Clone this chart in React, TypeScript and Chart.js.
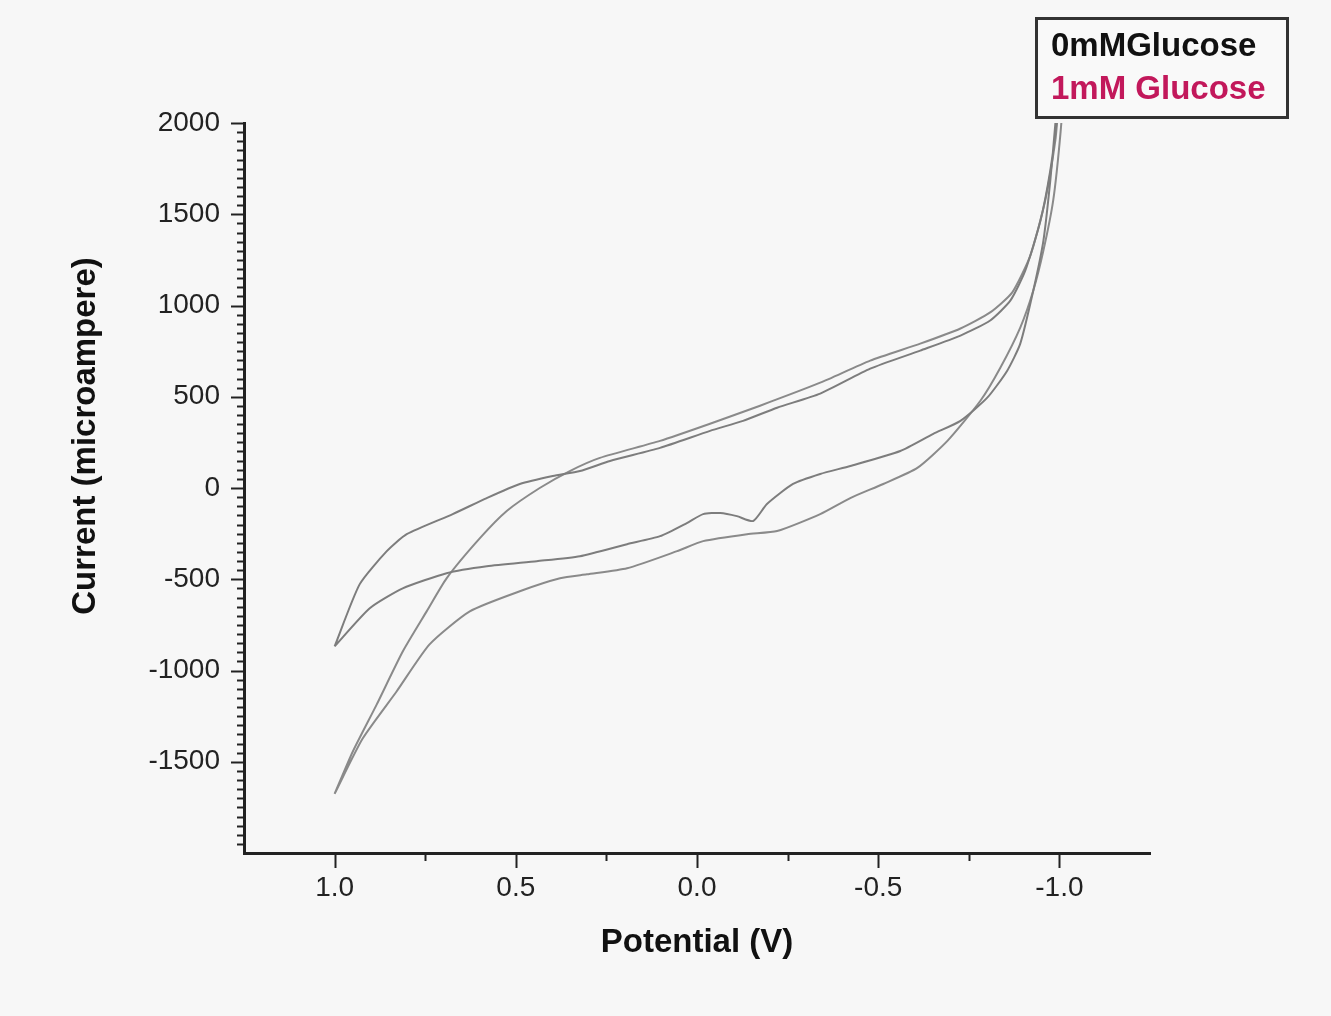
import React, { useEffect, useRef } from 'react';
import { Chart, registerables } from 'chart.js';

Chart.register(...registerables);

// ---- Data ----
const seriesNames = ['0mMGlucose', '1mM Glucose'];
const potentialTickLabels = [1.0, 0.5, 0.0, -0.5, -1.0];
const currentTickLabels = [2000, 1500, 1000, 500, 0, -500, -1000, -1500];

// 0 mM glucose: lower branch (scan from +1.0 V toward -1.0 V)
const lower0Potential = [1.0, 0.903, 0.812, 0.691, 0.58, 0.442, 0.323, 0.193, 0.102, 0.028, -0.017, -0.064, -0.11, -0.155, -0.193, -0.265, -0.34, -0.423, -0.561, -0.652, -0.727, -0.801, -0.856, -0.892, -0.928, -0.956, -0.975, -0.989, -0.995];
const lower0Current = [-868, -659, -550, -467, -429, -401, -374, -308, -264, -192, -143, -137, -154, -181, -88, 22, 77, 121, 203, 297, 368, 495, 643, 791, 1082, 1357, 1687, 2000, 2150];
// 0 mM glucose: upper branch (listed from +1.0 V toward -1.0 V)
const upper0Potential = [1.0, 0.931, 0.856, 0.801, 0.674, 0.58, 0.489, 0.398, 0.323, 0.24, 0.102, -0.036, -0.127, -0.221, -0.34, -0.478, -0.616, -0.727, -0.809, -0.865, -0.906, -0.948, -0.975, -0.992, -0.998];
const upper0Current = [-868, -528, -346, -253, -143, -55, 22, 66, 93, 148, 220, 313, 368, 440, 517, 654, 753, 835, 918, 1028, 1192, 1467, 1742, 2000, 2150];

// 1 mM glucose: lower branch
const lower1Potential = [1.0, 0.923, 0.829, 0.738, 0.627, 0.489, 0.378, 0.304, 0.193, 0.055, -0.017, -0.138, -0.221, -0.34, -0.423, -0.514, -0.608, -0.691, -0.782, -0.837, -0.892, -0.928, -0.956, -0.983, -1.003, -1.008];
const lower1Current = [-1676, -1374, -1115, -857, -676, -566, -495, -473, -440, -346, -291, -253, -236, -143, -55, 22, 110, 258, 478, 659, 879, 1082, 1302, 1577, 1945, 2127];
// 1 mM glucose: upper branch
const upper1Potential = [1.0, 0.95, 0.884, 0.812, 0.746, 0.691, 0.599, 0.525, 0.434, 0.351, 0.268, 0.102, -0.036, -0.174, -0.34, -0.478, -0.616, -0.727, -0.809, -0.87, -0.92, -0.961, -0.989, -1.0];
const upper1Current = [-1676, -1445, -1187, -896, -676, -495, -275, -126, 0, 93, 165, 258, 352, 451, 577, 698, 791, 874, 962, 1072, 1275, 1577, 1907, 2130];

const FONT = "'Liberation Sans', Arial, Helvetica, sans-serif";

function buildLoop(lv: number[], li: number[], uv: number[], ui: number[]) {
  const pts = lv.map((v, i) => ({ x: v, y: li[i] }));
  for (let i = uv.length - 1; i >= 0; i--) pts.push({ x: uv[i], y: ui[i] });
  return pts;
}

const isLabelled = (arr: number[], v: number) => arr.some((t) => Math.abs(t - v) < 1e-6);

const decorPlugin = {
  id: 'decor',
  beforeDraw(chart: any) {
    const { ctx, width, height } = chart;
    ctx.save();
    ctx.fillStyle = '#f7f7f7';
    ctx.fillRect(0, 0, width, height);
    ctx.restore();
  },
  afterDraw(chart: any) {
    const { ctx, chartArea } = chart;
    const xs = chart.scales.x;
    const ys = chart.scales.y;
    ctx.save();
    ctx.strokeStyle = '#222';
    ctx.lineWidth = 2;
    // y ticks (outward, to the left)
    for (let v = -2000; v <= 2000; v += 50) {
      if (v === 2000 || v === -2000) continue;
      const major = v % 500 === 0;
      const py = Math.round(ys.getPixelForValue(v)) + 0.5;
      const len = major ? 13 : 7;
      ctx.beginPath();
      ctx.moveTo(chartArea.left - len, py);
      ctx.lineTo(chartArea.left, py);
      ctx.stroke();
    }
    ctx.beginPath();
    ctx.moveTo(chartArea.left - 13, Math.round(ys.getPixelForValue(2000)) + 0.5);
    ctx.lineTo(chartArea.left, Math.round(ys.getPixelForValue(2000)) + 0.5);
    ctx.stroke();
    // x ticks (outward, below)
    for (let k = -4; k <= 4; k++) {
      const v = k * 0.25;
      const major = k % 2 === 0;
      const px = Math.round(xs.getPixelForValue(v)) + 0.5;
      const len = major ? 15 : 8;
      ctx.beginPath();
      ctx.moveTo(px, chartArea.bottom);
      ctx.lineTo(px, chartArea.bottom + len);
      ctx.stroke();
    }
    // y-axis title
    ctx.fillStyle = '#111';
    ctx.font = `bold 33px ${FONT}`;
    ctx.textAlign = 'center';
    ctx.textBaseline = 'middle';
    ctx.translate(86, 436);
    ctx.rotate(-Math.PI / 2);
    ctx.fillText('Current (microampere)', 0, 0);
    ctx.restore();

    // legend box
    ctx.save();
    ctx.fillStyle = '#f9f9f9';
    ctx.fillRect(1036, 18, 251, 99);
    ctx.strokeStyle = '#333';
    ctx.lineWidth = 3;
    ctx.strokeRect(1036.5, 18.5, 251, 99);
    ctx.font = `bold 33px ${FONT}`;
    ctx.textAlign = 'left';
    ctx.textBaseline = 'middle';
    ctx.fillStyle = '#111';
    ctx.fillText(seriesNames[0], 1051, 47);
    ctx.fillStyle = '#c2185b';
    ctx.fillText(seriesNames[1], 1051, 90);
    ctx.restore();
  },
};

export default function App() {
  const canvasRef = useRef<HTMLCanvasElement | null>(null);

  useEffect(() => {
    document.body.style.margin = '0';
    document.body.style.background = '#f7f7f7';
    const canvas = canvasRef.current;
    if (!canvas) return;
    const chart = new Chart(canvas, {
      type: 'scatter',
      data: {
        datasets: [
          {
            label: seriesNames[0],
            data: buildLoop(lower0Potential, lower0Current, upper0Potential, upper0Current),
            showLine: true,
            borderColor: '#7d7d7d',
            borderWidth: 2,
            pointRadius: 0,
            tension: 0.2,
            fill: false,
          },
          {
            label: seriesNames[1],
            data: buildLoop(lower1Potential, lower1Current, upper1Potential, upper1Current),
            showLine: true,
            borderColor: '#8a8a8a',
            borderWidth: 2,
            pointRadius: 0,
            tension: 0.2,
            fill: false,
          },
        ],
      },
      options: {
        responsive: false,
        animation: false,
        devicePixelRatio: 1,
        layout: { padding: { top: 123, right: 181, left: 0, bottom: 0 } },
        plugins: { legend: { display: false }, tooltip: { enabled: false } },
        scales: {
          x: {
            type: 'linear',
            reverse: true,
            min: -1.25,
            max: 1.25,
            afterFit: (s: any) => { s.height = 163; },
            border: { display: true, color: '#222', width: 3 },
            grid: { display: true, drawOnChartArea: false, drawTicks: false },
            ticks: {
              stepSize: 0.25,
              padding: 18,
              color: '#222',
              font: { family: FONT, size: 28 },
              maxRotation: 0,
              autoSkip: false,
              callback: (v: any) => (isLabelled(potentialTickLabels, Number(v)) ? Number(v).toFixed(1) : ''),
            },
            title: {
              display: true,
              text: 'Potential (V)',
              color: '#111',
              font: { family: FONT, size: 33, weight: 'bold' },
              padding: { top: 0, bottom: 53 },
            },
          },
          y: {
            type: 'linear',
            min: -2000,
            max: 2000,
            afterFit: (s: any) => { s.width = 244; },
            border: { display: true, color: '#222', width: 3 },
            grid: { display: true, drawOnChartArea: false, drawTicks: false },
            ticks: {
              stepSize: 500,
              padding: 24,
              color: '#222',
              font: { family: FONT, size: 28 },
              autoSkip: false,
              callback: (v: any) => (isLabelled(currentTickLabels, Number(v)) ? String(v) : ''),
            },
            title: { display: false },
          },
        },
      },
      plugins: [decorPlugin],
    });
    return () => chart.destroy();
  }, []);

  return (
    <div style={{ width: 1331, height: 1016, background: '#f7f7f7' }}>
      <canvas ref={canvasRef} width={1331} height={1016} style={{ width: 1331, height: 1016, display: 'block' }} />
    </div>
  );
}
